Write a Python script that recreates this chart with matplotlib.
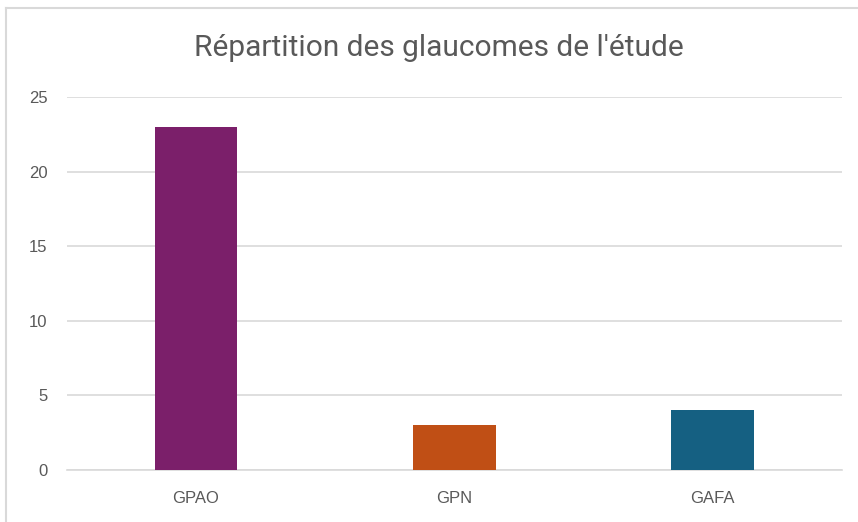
import matplotlib.pyplot as plt
from matplotlib.lines import Line2D

# Data
categories = ["GPAO", "GPN", "GAFA"]
values = [23, 3, 4]
colors = ["#7B1F6A", "#C04F15", "#156082"]
yticks = [0, 5, 10, 15, 20, 25]

fig = plt.figure(figsize=(8.58, 5.22), dpi=100)
ax = fig.add_axes([0.078, 0.0996, 0.903, 0.7146])

x = range(len(categories))
ax.bar(x, values, width=0.32, color=colors, zorder=3)

ax.set_xlim(-0.5, len(categories) - 0.5)
ax.set_ylim(0, 25)
ax.set_yticks(yticks)
ax.set_xticks(list(x))
ax.set_xticklabels(categories)
ax.yaxis.grid(True, color="#D9D9D9", linewidth=1.2, zorder=0)
ax.tick_params(length=0, labelsize=12, labelcolor="#595959")
ax.tick_params(axis="x", pad=15)
ax.tick_params(axis="y", pad=14)
for lbl in ax.get_xticklabels() + ax.get_yticklabels():
    lbl.set_family("Liberation Sans")
for s in ["top", "right", "left"]:
    ax.spines[s].set_visible(False)
ax.spines["bottom"].set_color("#D9D9D9")
ax.spines["bottom"].set_linewidth(1.2)

fig.text(0.512, 0.908, "Répartition des glaucomes de l'étude", ha="center", va="center",
         fontsize=21.5, color="#595959", family="Roboto")

# chart border (left and top edges visible)
fig.add_artist(Line2D([0.007, 0.007], [0, 0.985], transform=fig.transFigure, color="#D9D9D9", lw=1.5))
fig.add_artist(Line2D([0.007, 1], [0.985, 0.985], transform=fig.transFigure, color="#D9D9D9", lw=1.5))

fig.savefig("out.png", dpi=100)
